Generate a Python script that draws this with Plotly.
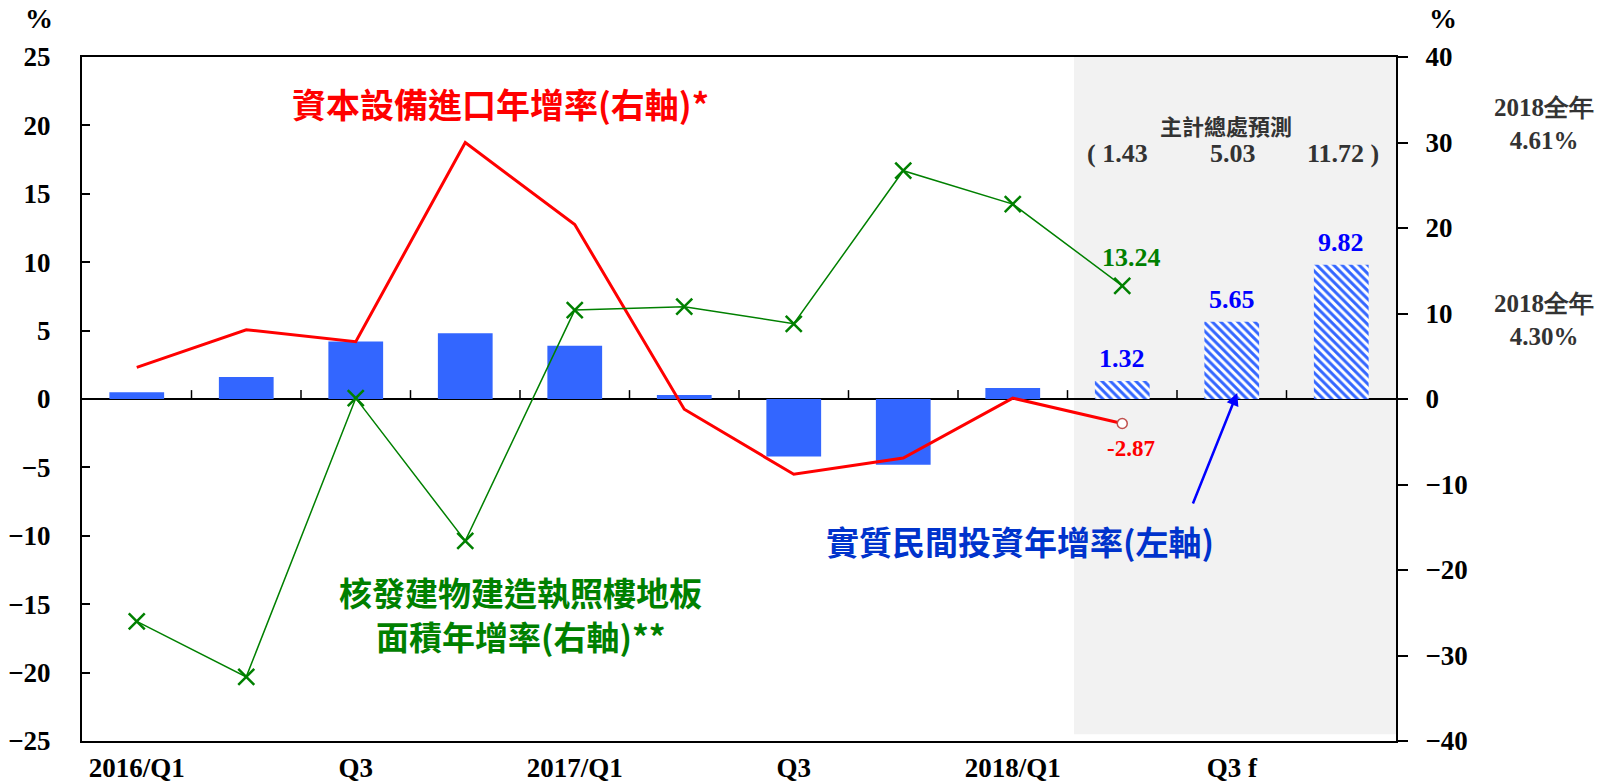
import plotly.graph_objects as go

# ---- data ----
categories = ["2016Q1", "2016Q2", "2016Q3", "2016Q4", "2017Q1", "2017Q2",
              "2017Q3", "2017Q4", "2018Q1", "2018Q2", "2018Q3", "2018Q4"]
tick_labels = ["2016/Q1", "", "Q3", "", "2017/Q1", "", "Q3", "", "2018/Q1", "", "Q3 f", ""]
invest_actual = [0.5, 1.6, 4.2, 4.8, 3.9, 0.3, -4.2, -4.8, 0.8, None, None, None]
invest_forecast = [None, None, None, None, None, None, None, None, None, 1.32, 5.65, 9.82]
capex_import = [3.7, 8.1, 6.7, 30.0, 20.4, -1.2, -8.8, -6.9, 0.1, -2.87]
building_permit = [-26.0, -32.5, 0.1, -16.6, 10.4, 10.8, 8.8, 26.7, 22.8, 13.24]
dgbas_forecast = ["( 1.43", "5.03", "11.72 )"]

xs = list(range(len(categories)))

# layout geometry
L, R, T, B = 82, 220, 57, 43
W, H = 1616, 784
PW, PH = W - L - R, H - T - B


def px(x):
    return (x - L) / PW


def py(y):
    return 1 - (y - T) / PH


SERIF = "Liberation Serif"
CJK = "Noto Sans CJK TC"
BAR = "#3366FF"

fig = go.Figure()

fig.add_trace(go.Bar(x=xs, y=invest_actual, marker=dict(color=BAR, line=dict(width=0)),
                     width=0.5, yaxis="y", showlegend=False))
fig.add_trace(go.Bar(x=xs, y=invest_forecast,
                     marker=dict(color="white", line=dict(width=0),
                                 pattern=dict(shape="\\", fgcolor=BAR, bgcolor="white",
                                              size=6, solidity=0.5, fillmode="replace")),
                     width=0.5, yaxis="y", showlegend=False))

fig.add_trace(go.Scatter(x=xs[:len(capex_import)], y=capex_import, mode="lines",
                         line=dict(color="#FF0000", width=3), yaxis="y2", showlegend=False))
fig.add_trace(go.Scatter(x=[xs[len(capex_import) - 1]], y=[capex_import[-1]], mode="markers",
                         marker=dict(symbol="circle", size=10, color="white",
                                     line=dict(color="#C0504D", width=1.5)),
                         yaxis="y2", showlegend=False))
fig.add_trace(go.Scatter(x=xs[:len(building_permit)], y=building_permit, mode="lines+markers",
                         line=dict(color="#008000", width=1.5),
                         marker=dict(symbol="x-thin", size=16, line=dict(color="#008000", width=2.5)),
                         yaxis="y2", showlegend=False))

shapes = [
    dict(type="rect", xref="x", yref="y", x0=8.56, x1=11.5, y0=-24.5, y1=25,
         fillcolor="#F2F2F2", line=dict(width=0), layer="below"),
]
for k in range(len(categories) - 1):
    shapes.append(dict(type="line", xref="x", yref="y", x0=k + 0.5, x1=k + 0.5, y0=0, y1=0.65,
                       line=dict(color="black", width=1.5)))

annotations = []


def ann(text, x, y, size, color, family=CJK, **kw):
    d = dict(text=text, x=x, y=y, xref="paper", yref="paper", showarrow=False,
             font=dict(size=size, color=color, family=family, weight="bold"),
             xanchor="center", yanchor="middle")
    d.update(kw)
    annotations.append(d)


ann("%", px(39), py(19), 28, "black", SERIF)
ann("%", px(1443), py(19), 28, "black", SERIF)
ann("資本設備進口年增率(右軸)*", px(500), py(103), 34, "#FF0000")
ann("核發建物建造執照樓地板", px(520), py(592), 33, "#008000")
ann("面積年增率(右軸)**", px(520), py(636), 33, "#008000")
ann("實質民間投資年增率(左軸)", px(1020), py(541), 33, "#0033CC")
ann("主計總處預測", px(1226), py(125), 22, "#333333")
for t, cx in zip(dgbas_forecast, [1117, 1233, 1343]):
    ann(t, px(cx), py(153), 26, "#333333", SERIF)
ann("2018全年<br>4.61%", px(1544), py(124), 25, "#333333", SERIF)
ann("2018全年<br>4.30%", px(1544), py(320), 25, "#333333", SERIF)

for i in range(9, 12):
    annotations.append(dict(text="%.2f" % invest_forecast[i], x=xs[i], y=invest_forecast[i],
                            xref="x", yref="y", showarrow=False, yanchor="bottom", yshift=6,
                            font=dict(size=26, color="#0000FF", family=SERIF, weight="bold")))
annotations.append(dict(text="%.2f" % building_permit[-1], x=xs[len(building_permit) - 1] + 0.08,
                        y=building_permit[-1], xref="x", yref="y2", showarrow=False,
                        yanchor="bottom", yshift=12,
                        font=dict(size=26, color="#008000", family=SERIF, weight="bold")))
annotations.append(dict(text="%.2f" % capex_import[-1], x=xs[len(capex_import) - 1] + 0.08,
                        y=capex_import[-1], xref="x", yref="y2", showarrow=False,
                        yanchor="top", yshift=-10,
                        font=dict(size=23, color="#FF0000", family=SERIF, weight="bold")))
# arrow
annotations.append(dict(text="", x=10.05, y=0.44, ax=9.64, ay=-7.75, xref="x", yref="y",
                        axref="x", ayref="y", showarrow=True, arrowhead=2, arrowsize=1,
                        arrowwidth=2.5, arrowcolor="#0000FF"))

tickfont = dict(family=SERIF, size=27, color="black", weight="bold")

fig.update_layout(
    width=W, height=H, margin=dict(l=L, r=R, t=T, b=B, autoexpand=False),
    paper_bgcolor="white", plot_bgcolor="white",
    barmode="overlay", showlegend=False,
    shapes=shapes, annotations=annotations,
    xaxis=dict(range=[-0.5, 11.5], tickvals=xs, ticktext=tick_labels, ticks="",
               showgrid=False, zeroline=False, showline=True, linecolor="black", linewidth=2,
               mirror=True, tickfont=tickfont, automargin=False, ticklabelstandoff=2),
    yaxis=dict(range=[-25, 25], dtick=5, ticks="inside", ticklen=8, tickwidth=1.5,
               tickcolor="black", showgrid=False, zeroline=True, zerolinecolor="black",
               zerolinewidth=1.5, showline=True, linecolor="black", linewidth=2,
               tickfont=tickfont, ticklabelstandoff=24, automargin=False),
    yaxis2=dict(range=[-40, 40], dtick=10, overlaying="y", side="right", ticks="outside",
                ticklen=10, tickwidth=1.5, tickcolor="black", showgrid=False, zeroline=False,
                showline=True, linecolor="black", linewidth=2,
                tickfont=tickfont, ticklabelstandoff=12, automargin=False),
)

fig.write_html("out.html")
